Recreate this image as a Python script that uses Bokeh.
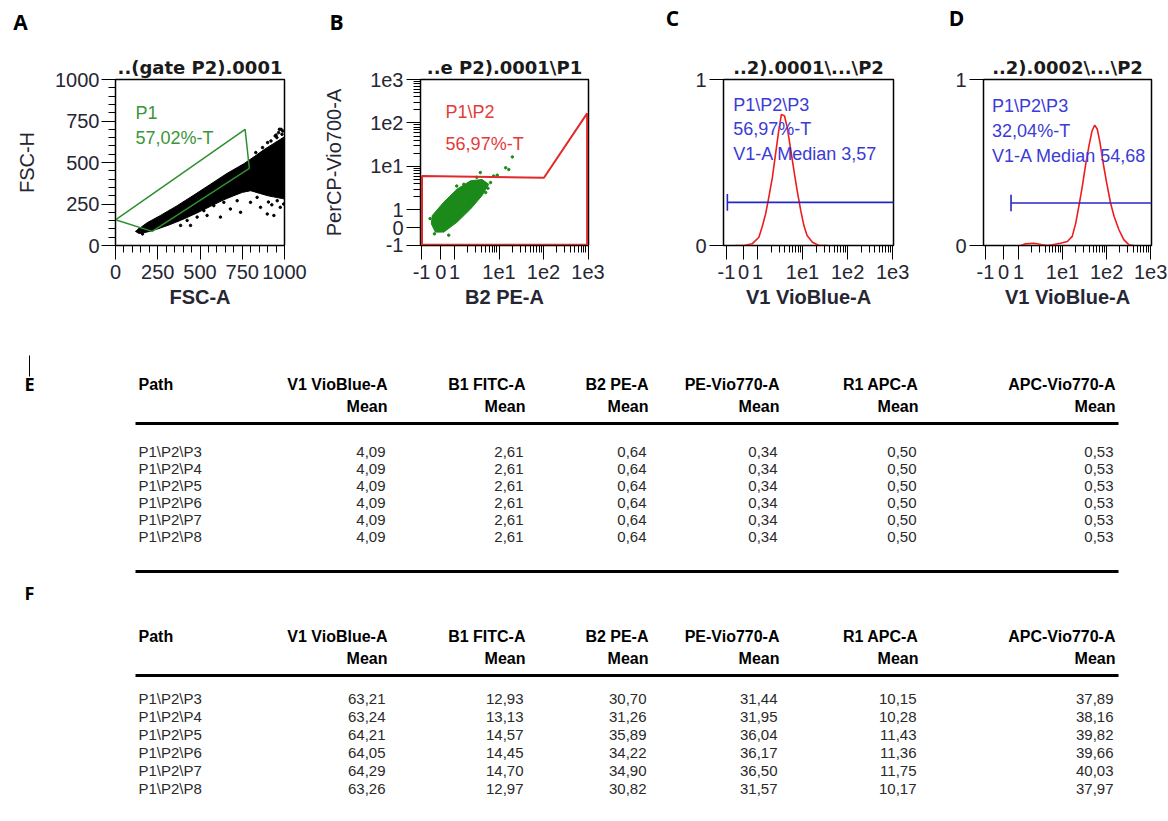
import math
from bokeh.plotting import figure
from bokeh.layouts import column, row
from bokeh.models import Range1d, FixedTicker, SingleIntervalTicker
from bokeh.core.properties import value
from bokeh.embed import file_html
from bokeh.resources import INLINE

# ---------------- Panel A : FSC-A vs FSC-H (dot plot) ----------------
a_cloud_fsc_a = [118, 187, 266, 365, 464, 562, 661, 759, 819, 878, 937, 976, 1000,
                 1000, 950, 900, 850, 800, 750, 700, 640, 560, 480, 400, 320, 250, 190, 140]
a_cloud_fsc_h = [85, 137, 181, 240, 304, 369, 435, 492, 534, 577, 615, 640, 655,
                 280, 290, 300, 315, 330, 320, 300, 275, 235, 195, 158, 125, 100, 82, 72]
a_sparse_fsc_a = [385, 424, 483, 542, 621, 680, 740, 799, 858, 898, 937, 957, 838, 986, 365,
                  444, 582, 523, 641, 720, 905, 900, 950, 980, 870, 830, 160, 140, 990, 965,
                  945, 995, 975, 925, 985, 955, 970, 920, 995]
a_sparse_fsc_h = [121, 151, 171, 181, 171, 220, 200, 260, 230, 190, 181, 270, 290, 339, 151,
                  121, 240, 210, 260, 270, 262, 620, 665, 700, 590, 560, 70, 95, 690, 680,
                  660, 250, 230, 245, 670, 650, 700, 630, 640]
a_gate_fsc_a = [0, 217, 792, 767]
a_gate_fsc_h = [155, 85, 465, 700]
a_gate_name = "P1"
a_gate_pct = "57,02%-T"

# ---------------- Panel B : B2 PE-A vs PerCP-Vio700-A (decade display units) ----------------
b_cloud_pe = [-0.50, -0.24, 0.06, 0.36, 0.62, 0.77, 0.62, 0.36, 0.06, -0.24, -0.43, -0.52]
b_cloud_percp = [-0.13, 0.18, 0.48, 0.67, 0.70, 0.59, 0.33, 0.02, -0.28, -0.51, -0.51, -0.32]
b_sparse_pe = [0.58, 0.88, 1.30, 1.15, 1.22, 0.70, 0.43, -0.13, 0.96, 0.81, 0.21, 0.50, 0.75,
               -0.55, -0.45, 0.05]
b_sparse_percp = [0.86, 0.78, 1.22, 0.97, 0.93, 0.40, 0.25, -0.58, 0.80, 0.63, 0.59, 0.75, 0.50,
                  -0.20, -0.55, 0.55]
b_gate_pe = [-0.73, -0.73, 2.01, 2.98, 2.98]
b_gate_percp = [-0.80, 0.78, 0.74, 2.22, -0.80]
b_gate_name = "P1\\P2"
b_gate_pct = "56,97%-T"

# ---------------- Panel C / D : V1 VioBlue-A histograms (decade display units) ----------------
c_hist_x = [-0.49, -0.30, -0.12, 0.03, 0.10, 0.18, 0.25, 0.33, 0.40, 0.47, 0.53, 0.60, 0.66,
            0.73, 0.81, 0.88, 0.96, 1.03, 1.10, 1.22, 1.36, 1.55]
c_hist_y = [0.0, 0.0, 0.01, 0.05, 0.11, 0.19, 0.29, 0.41, 0.55, 0.69, 0.79, 0.78, 0.71,
            0.59, 0.45, 0.33, 0.21, 0.12, 0.06, 0.02, 0.0, 0.0]
c_gate_start = -0.67
c_gate_level = 0.26
c_lines = ["P1\\P2\\P3", "56,97%-T", "V1-A Median 3,57"]

d_hist_x = [0.05, 0.16, 0.35, 0.54, 0.65, 0.77, 0.95, 1.11, 1.22, 1.30, 1.37, 1.45, 1.52,
            1.60, 1.67, 1.73, 1.79, 1.85, 1.92, 2.00, 2.09, 2.17, 2.28, 2.39, 2.51, 2.61]
d_hist_y = [0.0, 0.01, 0.014, 0.004, 0.0, 0.004, 0.014, 0.024, 0.055, 0.135, 0.236, 0.358, 0.479,
            0.60, 0.69, 0.725, 0.70, 0.62, 0.50, 0.38, 0.256, 0.176, 0.095, 0.035, 0.004, 0.0]
d_gate_start = -0.17
d_gate_level = 0.256
d_lines = ["P1\\P2\\P3", "32,04%-T", "V1-A Median 54,68"]

# ---------------- Tables E / F ----------------
paths = ["P1\\P2\\P3", "P1\\P2\\P4", "P1\\P2\\P5", "P1\\P2\\P6", "P1\\P2\\P7", "P1\\P2\\P8"]
channels = ["V1 VioBlue-A", "B1 FITC-A", "B2 PE-A", "PE-Vio770-A", "R1 APC-A", "APC-Vio770-A"]
e_v1 = [4.09, 4.09, 4.09, 4.09, 4.09, 4.09]
e_b1 = [2.61, 2.61, 2.61, 2.61, 2.61, 2.61]
e_b2 = [0.64, 0.64, 0.64, 0.64, 0.64, 0.64]
e_pevio = [0.34, 0.34, 0.34, 0.34, 0.34, 0.34]
e_r1 = [0.50, 0.50, 0.50, 0.50, 0.50, 0.50]
e_apcvio = [0.53, 0.53, 0.53, 0.53, 0.53, 0.53]
f_v1 = [63.21, 63.24, 64.21, 64.05, 64.29, 63.26]
f_b1 = [12.93, 13.13, 14.57, 14.45, 14.70, 12.97]
f_b2 = [30.70, 31.26, 35.89, 34.22, 34.90, 30.82]
f_pevio = [31.44, 31.95, 36.04, 36.17, 36.50, 31.57]
f_r1 = [10.15, 10.28, 11.43, 11.36, 11.75, 10.17]
f_apcvio = [37.89, 38.16, 39.82, 39.66, 40.03, 37.97]

# ================= styling helpers =================
TICK_FONT = "Liberation Sans"
LABEL_COL = "#262633"


def style_axis(ax, label=None, bold=False):
    if label is not None:
        ax.axis_label = label
    ax.axis_label_text_font = TICK_FONT
    ax.axis_label_text_font_size = "20px"
    ax.axis_label_text_font_style = "bold" if bold else "normal"
    ax.axis_label_text_color = LABEL_COL
    ax.major_label_text_font = TICK_FONT
    ax.major_label_text_font_size = "20px"
    ax.major_label_text_color = LABEL_COL
    ax.major_tick_out = 14
    ax.major_tick_in = 0
    ax.minor_tick_out = 7
    ax.minor_tick_in = 0
    ax.axis_line_color = "black"
    ax.major_tick_line_color = "black"
    ax.minor_tick_line_color = "black"


def make_panel(w, h, xr, yr, borders, title):
    l, r, t, b = borders
    p = figure(width=w, height=h, x_range=Range1d(*xr), y_range=Range1d(*yr),
               output_backend="svg", toolbar_location=None,
               min_border_left=l, min_border_right=r, min_border_top=t, min_border_bottom=b)
    p.title.text = title
    p.title.align = "center"
    p.title.text_font = "DejaVu Sans"
    p.title.text_font_size = "18px"
    p.title.text_font_style = "bold"
    p.title.text_color = "#1a1a1a"
    p.title.standoff = 3
    p.xgrid.visible = False
    p.ygrid.visible = False
    p.outline_line_color = "black"
    p.outline_line_width = 1.5
    p.border_fill_color = "white"
    return p


def decade_minors(decades):
    return [d + math.log10(k) for d in decades for k in range(2, 10)]


STRIP_H = 45
ROW_H = 293
TOP = 34

# ---------------- Panel A ----------------
pa = make_panel(318, ROW_H, (0, 1000), (0, 1000), (115, 34, TOP, 91), "..(gate P2).0001")
pa.xaxis[0].ticker = SingleIntervalTicker(interval=250, num_minor_ticks=5)
pa.yaxis[0].ticker = SingleIntervalTicker(interval=250, num_minor_ticks=5)
style_axis(pa.xaxis[0], "FSC-A", bold=True)
style_axis(pa.yaxis[0], "FSC-H")
pa.xaxis[0].major_label_standoff = 5
pa.yaxis[0].major_label_standoff = 2
pa.xaxis[0].axis_label_standoff = 4
pa.yaxis[0].axis_label_standoff = 14
pa.patch(a_cloud_fsc_a, a_cloud_fsc_h, fill_color="black", line_color="black", line_width=1)
pa.scatter(a_sparse_fsc_a, a_sparse_fsc_h, size=2.5, color="black")
pa.patch(a_gate_fsc_a, a_gate_fsc_h, fill_color=None, line_color="#2f8f2f", line_width=1.5)
pa.text([118, 118], [800, 648], text=[a_gate_name, a_gate_pct], text_font=value(TICK_FONT),
        text_font_size="18px", text_color="#3a963a", text_baseline="middle", text_align="left")

# ---------------- Panel B ----------------
b_xt = [-0.74, -0.31, 0, 1, 2, 3]
b_yt = [-0.81, -0.41, 0, 1, 2, 3]
pb = make_panel(322, ROW_H, (-0.764, 3.011), (-0.818, 3.0), (102, 52, TOP, 91), "..e P2).0001\\P1")
pb.xaxis[0].ticker = FixedTicker(ticks=b_xt, minor_ticks=decade_minors([0, 1, 2]))
pb.yaxis[0].ticker = FixedTicker(ticks=b_yt, minor_ticks=decade_minors([0, 1, 2]))
pb.xaxis[0].major_label_overrides = {-0.74: "-1", -0.31: "0", 0: "1", 1: "1e1", 2: "1e2", 3: "1e3"}
pb.yaxis[0].major_label_overrides = {-0.81: "-1", -0.41: "0", 0: "1", 1: "1e1", 2: "1e2", 3: "1e3"}
style_axis(pb.xaxis[0], "B2 PE-A", bold=True)
style_axis(pb.yaxis[0], "PerCP-Vio700-A")
pb.xaxis[0].major_label_standoff = 5
pb.yaxis[0].major_label_standoff = 3
pb.xaxis[0].axis_label_standoff = 4
pb.yaxis[0].axis_label_standoff = 22
pb.patch(b_cloud_pe, b_cloud_percp, fill_color="#1b8a1b", line_color="#1b8a1b", line_width=1)
pb.scatter(b_sparse_pe, b_sparse_percp, size=2.5, color="#1b8a1b")
pb.patch(b_gate_pe, b_gate_percp, fill_color=None, line_color="#e02a2a", line_width=2)
pb.text([-0.2, -0.2], [2.25, 1.52], text=[b_gate_name, b_gate_pct], text_font=value(TICK_FONT),
        text_font_size="18px", text_color="#e33b3b", text_baseline="middle", text_align="left")


# ---------------- Panels C / D ----------------
def hist_panel(w, borders, xr, xt, title, hx, hy, gstart, glevel, lines, lx, ly):
    p = make_panel(w, ROW_H, xr, (0, 1), borders, title)
    p.xaxis[0].ticker = FixedTicker(ticks=xt, minor_ticks=decade_minors([0, 1, 2]))
    p.xaxis[0].major_label_overrides = {xt[0]: "-1", xt[1]: "0", 0: "1", 1: "1e1", 2: "1e2", 3: "1e3"}
    p.yaxis[0].ticker = FixedTicker(ticks=[0, 1], minor_ticks=[])
    style_axis(p.xaxis[0], "V1 VioBlue-A", bold=True)
    style_axis(p.yaxis[0])
    p.xaxis[0].major_label_standoff = 5
    p.yaxis[0].major_label_standoff = 3
    p.xaxis[0].axis_label_standoff = 4
    p.line(hx, hy, line_color="#ee1c1c", line_width=1.6)
    p.segment(x0=[gstart], y0=[glevel], x1=[xr[1] + 0.2], y1=[glevel], line_color="#2727c8", line_width=1.6)
    p.segment(x0=[gstart], y0=[glevel - 0.05], x1=[gstart], y1=[glevel + 0.05],
              line_color="#2727c8", line_width=1.6)
    p.text([lx] * 3, ly, text=lines, text_font=value(TICK_FONT), text_font_size="18px",
           text_color="#3b3bd6", text_baseline="middle", text_align="left")
    return p


pc = hist_panel(305, (83, 52, TOP, 91), (-0.756, 3.02), [-0.69, -0.31, 0, 1, 2, 3],
                "..2).0001\\...\\P2", c_hist_x, c_hist_y, c_gate_start, c_gate_level,
                c_lines, -0.54, [0.845, 0.70, 0.55])
pd_ = hist_panel(223, (38, 17, TOP, 93), (-0.795, 3.02), [-0.75, -0.34, 0, 1, 2, 3],
                 "..2).0002\\...\\P2", d_hist_x, d_hist_y, d_gate_start, d_gate_level,
                 d_lines, -0.60, [0.84, 0.69, 0.54])

# ---------------- letters strip (page pixel coordinates) ----------------
strip = figure(width=1168, height=STRIP_H, x_range=Range1d(0, 1168), y_range=Range1d(STRIP_H, 0),
               output_backend="svg", toolbar_location=None, x_axis_type=None, y_axis_type=None,
               min_border_left=0, min_border_right=0, min_border_top=0, min_border_bottom=0)
strip.outline_line_color = None
strip.xgrid.visible = False
strip.ygrid.visible = False
strip.text([20, 336, 672, 956], [21, 21, 17, 17], text=["A", "B", "C", "D"],
           text_font=value("Open Sans"), text_font_size="21px", text_font_style="bold",
           text_color="black", text_align="center", text_baseline="middle")

# ---------------- tables (page pixel coordinates) ----------------
tab = figure(width=1168, height=483, x_range=Range1d(0, 1168), y_range=Range1d(821, 338),
             output_backend="svg", toolbar_location=None, x_axis_type=None, y_axis_type=None,
             min_border_left=0, min_border_right=0, min_border_top=0, min_border_bottom=0)
tab.outline_line_color = None
tab.xgrid.visible = False
tab.ygrid.visible = False

col_right = [387, 525, 648, 779, 918, 1115]
PATH_X = 138


def fmt(v):
    return f"{v:.2f}".replace(".", ",")


def draw_table(y_head, y_line, y_row0, dy, cols, bottom_line):
    tab.text([PATH_X], [y_head], text=["Path"], text_font=value(TICK_FONT), text_font_size="16px",
             text_font_style="bold", text_color="black", text_baseline="middle", text_align="left")
    tab.text(col_right, [y_head] * 6, text=channels, text_font=value(TICK_FONT), text_font_size="16px",
             text_font_style="bold", text_color="black", text_baseline="middle", text_align="right")
    tab.text(col_right, [y_head + 22] * 6, text=["Mean"] * 6, text_font=value(TICK_FONT),
             text_font_size="16px", text_font_style="bold", text_color="black",
             text_baseline="middle", text_align="right")
    tab.segment(x0=[135], y0=[y_line], x1=[1118], y1=[y_line], line_color="black", line_width=3)
    ys = [y_row0 + i * dy for i in range(len(paths))]
    tab.text([PATH_X] * len(paths), ys, text=paths, text_font=value(TICK_FONT), text_font_size="15px",
             text_color="#2a2a2a", text_baseline="middle", text_align="left")
    for xr, vals in zip(col_right, cols):
        tab.text([xr - 2] * len(vals), ys, text=[fmt(v) for v in vals], text_font=value(TICK_FONT),
                 text_font_size="15px", text_color="#2a2a2a", text_baseline="middle", text_align="right")
    if bottom_line is not None:
        tab.segment(x0=[135], y0=[bottom_line], x1=[1118], y1=[bottom_line], line_color="black",
                    line_width=3)


draw_table(384, 423, 451, 17, [e_v1, e_b1, e_b2, e_pevio, e_r1, e_apcvio], 571)
draw_table(636, 675, 698, 18, [f_v1, f_b1, f_b2, f_pevio, f_r1, f_apcvio], None)

tab.text([29, 29], [383, 592], text=["E", "F"], text_font=value("Open Sans"), text_font_size="18px",
         text_font_style="bold", text_color="black", text_align="center", text_baseline="middle")
tab.segment(x0=[29], y0=[355], x1=[29], y1=[376], line_color="black", line_width=1)

layout = column(strip, row(pa, pb, pc, pd_), tab)
open("out.html", "w").write(file_html(layout, INLINE))
